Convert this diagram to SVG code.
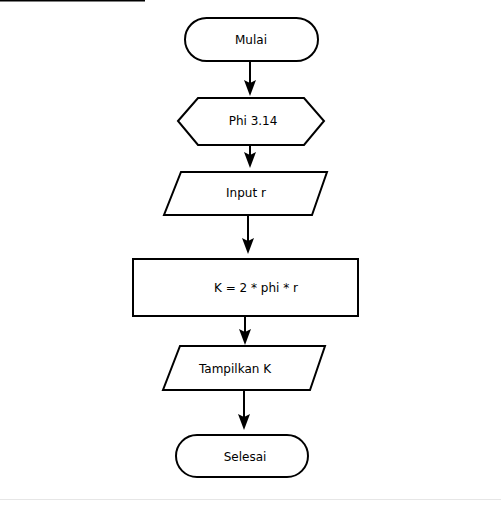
<svg xmlns="http://www.w3.org/2000/svg" width="501" height="514" viewBox="0 0 501 514">
<style>
.shape{fill:#fff;stroke:#000;stroke-width:2}
.lbl{font-family:"DejaVu Sans","Liberation Sans",sans-serif;font-size:12px;fill:#000;text-anchor:middle;dominant-baseline:central}
.conn{stroke:#000;stroke-width:2;fill:none}
.head{fill:#000;stroke:none}
</style>
<rect width="501" height="514" fill="#fff"/>
<line x1="0" y1="0.5" x2="145" y2="0.5" stroke="#000" stroke-width="2"/>
<line x1="0" y1="499.5" x2="501" y2="499.5" stroke="#e6e6e6" stroke-width="1"/>
<g id="connectors">
<line class="conn" x1="250" y1="61" x2="250" y2="88"/>
<path class="head" d="M244,80 L250,83 L256,80 L250,96 Z"/>
<line class="conn" x1="250" y1="145" x2="250" y2="160"/>
<path class="head" d="M244,152 L250,155 L256,152 L250,168 Z"/>
<line class="conn" x1="248" y1="215" x2="248" y2="246"/>
<path class="head" d="M242,238 L248,241 L254,238 L248,254 Z"/>
<line class="conn" x1="245" y1="316" x2="245" y2="337"/>
<path class="head" d="M239,329 L245,332 L251,329 L245,345 Z"/>
<line class="conn" x1="244" y1="390" x2="244" y2="422"/>
<path class="head" d="M238,414 L244,417 L250,414 L244,430 Z"/>
</g>
<g id="mulai">
<rect class="shape" x="185" y="18" width="133" height="43" rx="21.5"/>
<text class="lbl" x="251" y="40">Mulai</text>
</g>
<g id="phi">
<polygon class="shape" points="178,121 198,98 304,98 324,121 304,145 198,145"/>
<text class="lbl" x="253" y="121">Phi 3.14</text>
</g>
<g id="input">
<polygon class="shape" points="181,172 327,172 312,215 164,215"/>
<text class="lbl" x="246" y="193">Input r</text>
</g>
<g id="proses">
<rect class="shape" x="133" y="259" width="225" height="57"/>
<text class="lbl" x="256" y="288">K = 2 * phi * r</text>
</g>
<g id="tampil">
<polygon class="shape" points="180,346 325,346 310,390 163,390"/>
<text class="lbl" x="235" y="369">Tampilkan K</text>
</g>
<g id="selesai">
<rect class="shape" x="176" y="435" width="132" height="42" rx="21"/>
<text class="lbl" x="245" y="457">Selesai</text>
</g>
</svg>
